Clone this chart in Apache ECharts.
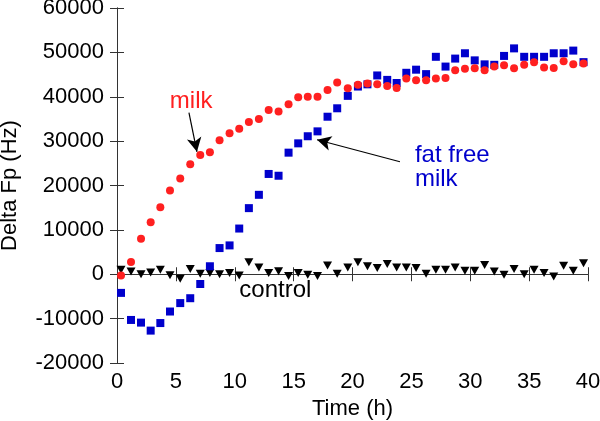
<!DOCTYPE html>
<html>
<head>
<meta charset="utf-8">
<script src="https://cdn.jsdelivr.net/npm/echarts@6/dist/echarts.min.js"></script>
<style>html,body{margin:0;padding:0;background:#fff;}#c{width:600px;height:421px;}</style>
</head>
<body>
<div id="c"></div>
<script>
// Shared sampling times (h)
var time = [0.34,1.19,2.04,2.86,3.68,4.5,5.37,6.22,7.07,7.89,8.71,9.56,10.38,11.2,12.05,12.88,13.72,14.57,15.39,16.2,17.03,17.88,18.7,19.6,20.46,21.27,22.1,22.95,23.75,24.57,25.4,26.25,27.08,27.9,28.72,29.55,30.38,31.22,32.04,32.87,33.72,34.58,35.42,36.27,37.09,37.93,38.75,39.62];
// Delta Fp (Hz)
var milk = [-300,2750,8000,11700,15100,18900,21600,24800,26900,27500,30200,31800,32800,34300,35000,37000,36700,38300,39900,40000,40000,41500,43200,41900,42700,43000,42800,42400,42000,44100,43700,43700,44100,44200,46000,46300,46400,46000,46800,47100,46400,47200,47800,46600,46500,48000,47300,47500];
var fatFreeMilk = [-4200,-10300,-10900,-12700,-11000,-8400,-6500,-5400,-2200,1800,5900,6500,10300,14900,17900,22600,22200,27400,29500,31100,32200,35500,37400,40200,42300,42800,44800,43800,43100,45400,46100,45100,49000,46800,48600,49800,48200,47300,47200,49200,50900,49000,49000,49000,49800,49800,50400,47800];
var control = [1000,600,0,400,1000,-200,-1000,1200,100,300,0,300,-300,2700,1500,300,700,-400,300,-100,-400,2000,100,1500,2700,1800,1400,2300,1500,1500,1400,100,1000,1000,1500,800,800,2100,600,-100,1200,0,1000,300,-500,1900,800,2500];
var xTicks = {min:0, max:40, interval:5};
var yTicks = {min:-20000, max:60000, interval:10000};
var xTitle = 'Time (h)';
var yTitle = 'Delta Fp (Hz)';
// annotations in data coordinates
var labels = [
  {text:'milk', x:6.3, y:38900, color:'#ff2020', align:'center'},
  {text:'fat free\nmilk', x:25.3, y:24000, color:'#0000cc', align:'left'},
  {text:'control', x:13.45, y:-3700, color:'#000', align:'center'}
];
var arrows = [
  {from:[6.11,36400], to:[6.79,27600]},
  {from:[24.03,25360], to:[16.99,30320]}
];

function pairs(ys){ return ys.map(function(v,i){return [time[i], v];}); }
var chart = echarts.init(document.getElementById('c'), null, {renderer:'canvas'});
var axisFont = {fontFamily:'Liberation Sans, Arial, sans-serif', fontSize:22, color:'#000'};
var lineStyle = {color:'#333', width:1};
function plain(v){ return String(v); }
var option = {
  animation:false,
  backgroundColor:'#fff',
  grid:{left:117, right:12, top:8, bottom:58, containLabel:false, outerBoundsMode:'none'},
  xAxis:[{
    type:'value', min:xTicks.min, max:xTicks.max, interval:xTicks.interval,
    name:xTitle, nameLocation:'middle', nameGap:34, nameTextStyle:axisFont,
    axisLine:{show:true, lineStyle:lineStyle},
    axisTick:{show:true, inside:true, length:7, lineStyle:lineStyle},
    axisLabel:Object.assign({margin:8, formatter:plain}, axisFont),
    splitLine:{show:false}
  },{
    type:'value', position:'top', min:xTicks.min, max:xTicks.max, interval:xTicks.interval,
    axisLine:{show:true, lineStyle:lineStyle},
    axisTick:{show:true, inside:true, length:7, lineStyle:lineStyle},
    axisLabel:{show:false}, splitLine:{show:false}
  }],
  yAxis:[{
    type:'value', min:yTicks.min, max:yTicks.max, interval:yTicks.interval,
    name:yTitle, nameLocation:'middle', nameGap:96, nameTextStyle:axisFont,
    axisLine:{show:true, lineStyle:lineStyle},
    axisTick:{show:true, inside:true, length:7, lineStyle:lineStyle},
    axisLabel:Object.assign({margin:13, formatter:plain}, axisFont),
    splitLine:{show:false}
  },{
    type:'value', position:'right', min:yTicks.min, max:yTicks.max, interval:yTicks.interval,
    axisLine:{show:true, lineStyle:lineStyle},
    axisTick:{show:true, inside:true, length:7, lineStyle:lineStyle},
    axisLabel:{show:false}, splitLine:{show:false}
  }],
  series:[
    {name:'control', type:'scatter', data:pairs(control), symbol:'triangle', symbolRotate:180, symbolSize:[9,8], itemStyle:{color:'#000', opacity:1}, z:3},
    {name:'fat free milk', type:'scatter', data:pairs(fatFreeMilk), symbol:'rect', symbolSize:8, itemStyle:{color:'#0000cc', opacity:1}, z:4},
    {name:'milk', type:'scatter', data:pairs(milk), symbol:'circle', symbolSize:8, itemStyle:{color:'#ff2020', opacity:1}, z:5,
     markLine:{silent:true, symbol:['none','arrow'], symbolSize:[11,14], lineStyle:{color:'#000', width:1.2, type:'solid', opacity:1}, label:{show:false},
       data:arrows.map(function(a){return [{coord:a.from},{coord:a.to}];})}}
  ]
};
chart.setOption(option);
var g = labels.map(function(l){
  var p = chart.convertToPixel({xAxisIndex:0, yAxisIndex:0}, [l.x, l.y]);
  return {type:'text', x:p[0], y:p[1], z:10, style:{text:l.text, fill:l.color, font:'24px "Liberation Sans", Arial, sans-serif', align:l.align, verticalAlign:'middle', lineHeight:24}};
});
chart.setOption({graphic:g});
</script>
</body>
</html>
